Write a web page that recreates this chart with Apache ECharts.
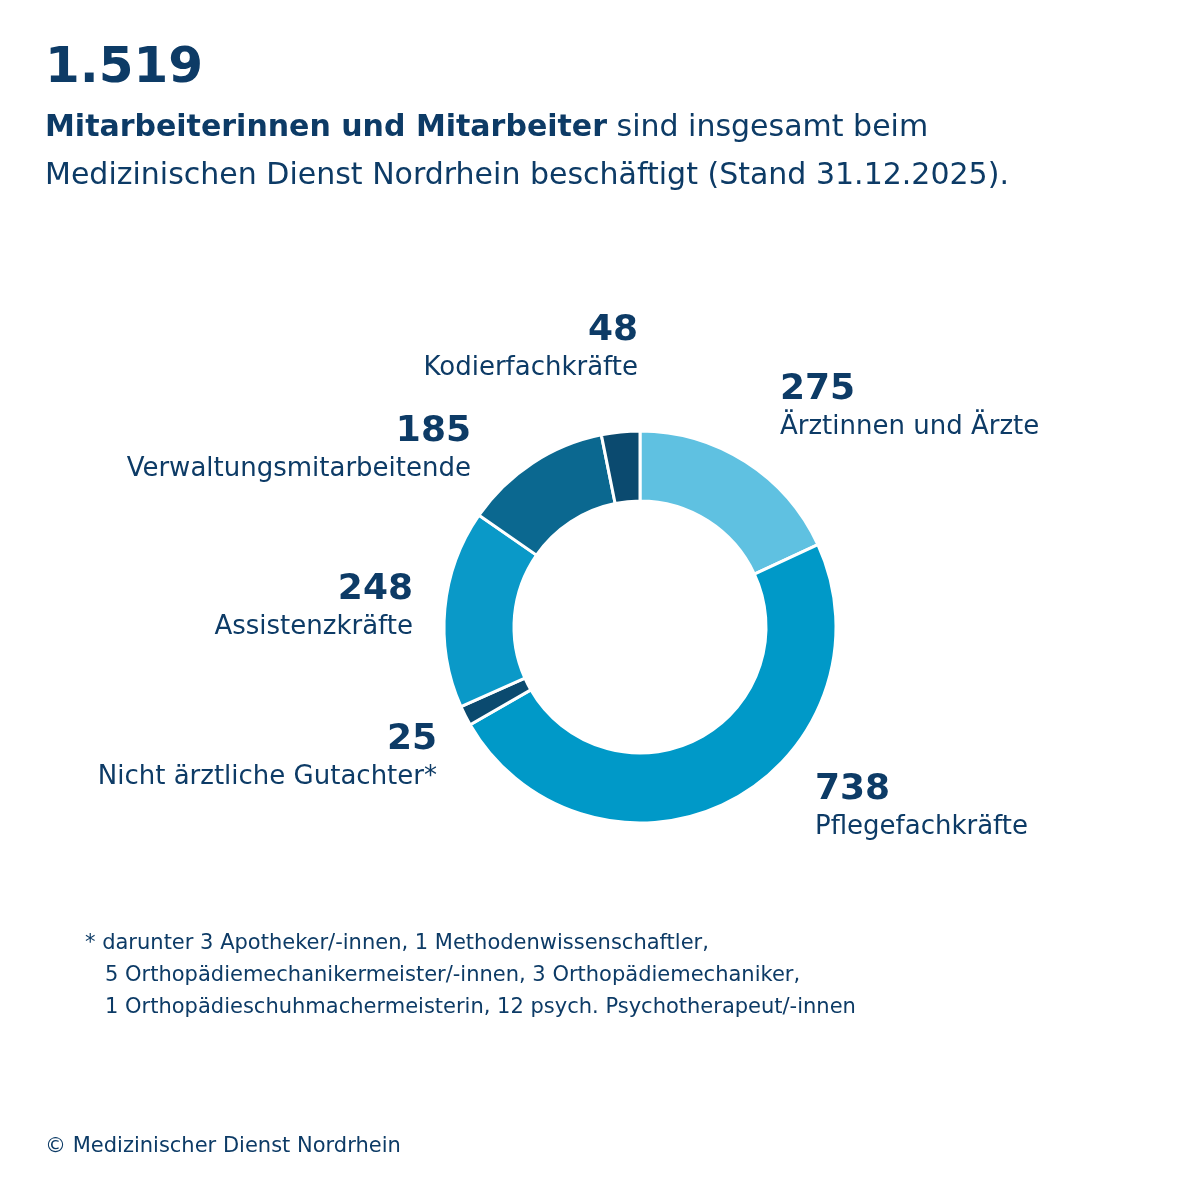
<!DOCTYPE html>
<html><head><meta charset="utf-8">
<script src="https://cdn.jsdelivr.net/npm/echarts@6/dist/echarts.min.js"></script>
<style>html,body{margin:0;background:#fff}#c{width:1200px;height:1200px}</style>
</head><body><div id="c"></div>
<script>
var categories = ['Ärztinnen und Ärzte','Pflegefachkräfte','Nicht ärztliche Gutachter*','Assistenzkräfte','Verwaltungsmitarbeitende','Kodierfachkräfte'];
var values = [275, 738, 25, 248, 185, 48];
var colors = ['#5fc1e1','#0099c8','#0b4a6f','#0a99c8','#0b6890','#0b4a6f'];
// label anchor: [x, y, align]
var labelPos = [[780,372,'left'],[815,772,'left'],[437,722,'right'],[413,572,'right'],[471,414,'right'],[638,313,'right']];
var navy = '#0d3b66';
var font = '"DejaVu Sans", sans-serif';

var chart = echarts.init(document.getElementById('c'));
var graphics = [
  {type:'text', left:45, top:44, style:{text:'1.519', font:'bold 50px '+font, fill:navy}},
  {type:'text', left:45, top:113, style:{rich:{b:{font:'bold 30px '+font, fill:navy},n:{font:'30px '+font, fill:navy}}, text:'{b|Mitarbeiterinnen und Mitarbeiter}{n| sind insgesamt beim}'}},
  {type:'text', left:45, top:161, style:{text:'Medizinischen Dienst Nordrhein beschäftigt (Stand 31.12.2025).', font:'30px '+font, fill:navy}},
  {type:'text', left:85, top:928, style:{text:'* darunter 3 Apotheker/-innen, 1 Methodenwissenschaftler,\n   5 Orthopädiemechanikermeister/-innen, 3 Orthopädiemechaniker,\n   1 Orthopädieschuhmachermeisterin, 12 psych. Psychotherapeut/-innen', font:'21px '+font, fill:navy, lineHeight:32}},
  {type:'text', left:45, top:1136, style:{text:'© Medizinischer Dienst Nordrhein', font:'21px '+font, fill:navy}}
];
categories.forEach(function(c,i){
  var p = labelPos[i];
  graphics.push({type:'text', x:p[0], y:p[1], style:{text:String(values[i]), font:'bold 36px '+font, fill:navy, align:p[2], verticalAlign:'top'}});
  graphics.push({type:'text', x:p[0], y:p[1]+42, style:{text:c, font:'26px '+font, fill:navy, align:p[2], verticalAlign:'top'}});
});

chart.setOption({
  animation:false,
  graphic: graphics,
  series:[{
    type:'pie', center:[640,627], radius:[126,196], startAngle:90, clockwise:true,
    label:{show:false}, labelLine:{show:false},
    itemStyle:{borderColor:'#fff', borderWidth:3},
    data: categories.map(function(c,i){return {name:c, value:values[i], itemStyle:{color:colors[i]}};})
  }]
});
</script></body></html>
